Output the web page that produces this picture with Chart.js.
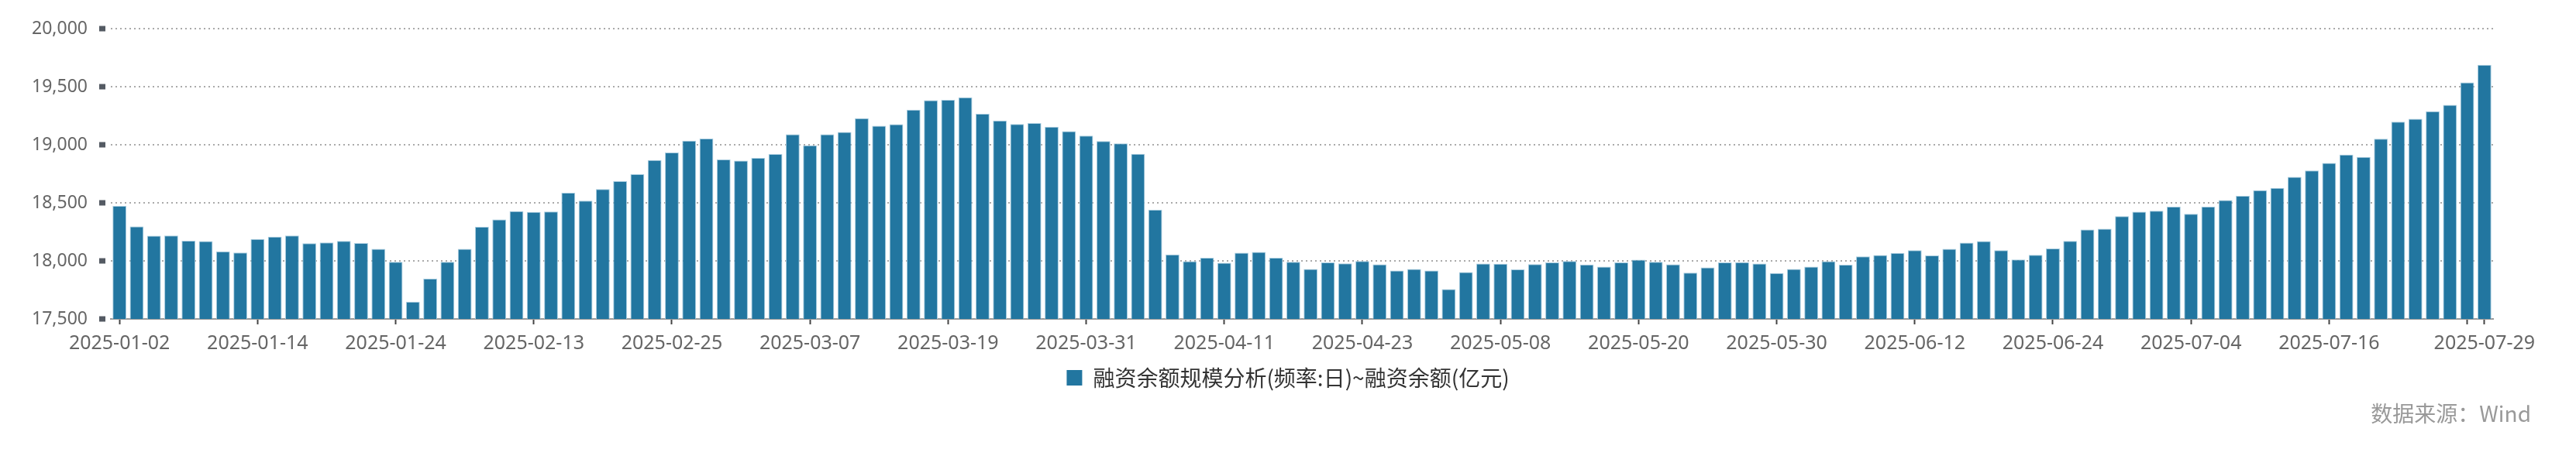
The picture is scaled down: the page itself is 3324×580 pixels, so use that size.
<!DOCTYPE html>
<html>
<head>
<meta charset="utf-8">
<script src="https://cdn.jsdelivr.net/npm/chart.js@4.4.1/dist/chart.umd.min.js"></script>
<style>
  html, body { margin: 0; padding: 0; background: #fff; }
  #wrap { position: relative; width: 3324px; height: 580px; overflow: hidden; }
  #c { display: block; }
  #source { position: absolute; right: 58px; top: 519px; font-family: "Noto Sans CJK SC", sans-serif; font-size: 28px; line-height: 28px; color: #999; white-space: nowrap; }
</style>
</head>
<body>
<div id="wrap">
  <canvas id="c" width="3324" height="580"></canvas>
  <div id="source">数据来源：Wind</div>
</div>
<script>
const seriesName = '融资余额规模分析(频率:日)~融资余额(亿元)';

const dates = [
  '2025-01-02','2025-01-03','2025-01-06','2025-01-07','2025-01-08','2025-01-09','2025-01-10','2025-01-13','2025-01-14','2025-01-15',
  '2025-01-16','2025-01-17','2025-01-20','2025-01-21','2025-01-22','2025-01-23','2025-01-24','2025-01-27',
  '2025-02-05','2025-02-06','2025-02-07','2025-02-10','2025-02-11','2025-02-12','2025-02-13','2025-02-14','2025-02-17','2025-02-18',
  '2025-02-19','2025-02-20','2025-02-21','2025-02-24','2025-02-25','2025-02-26','2025-02-27','2025-02-28',
  '2025-03-03','2025-03-04','2025-03-05','2025-03-06','2025-03-07','2025-03-10','2025-03-11','2025-03-12','2025-03-13','2025-03-14',
  '2025-03-17','2025-03-18','2025-03-19','2025-03-20','2025-03-21','2025-03-24','2025-03-25','2025-03-26','2025-03-27','2025-03-28','2025-03-31',
  '2025-04-01','2025-04-02','2025-04-03','2025-04-07','2025-04-08','2025-04-09','2025-04-10','2025-04-11','2025-04-14','2025-04-15',
  '2025-04-16','2025-04-17','2025-04-18','2025-04-21','2025-04-22','2025-04-23','2025-04-24','2025-04-25','2025-04-28','2025-04-29','2025-04-30',
  '2025-05-06','2025-05-07','2025-05-08','2025-05-09','2025-05-12','2025-05-13','2025-05-14','2025-05-15','2025-05-16','2025-05-19',
  '2025-05-20','2025-05-21','2025-05-22','2025-05-23','2025-05-26','2025-05-27','2025-05-28','2025-05-29','2025-05-30',
  '2025-06-03','2025-06-04','2025-06-05','2025-06-06','2025-06-09','2025-06-10','2025-06-11','2025-06-12','2025-06-13','2025-06-16',
  '2025-06-17','2025-06-18','2025-06-19','2025-06-20','2025-06-23','2025-06-24','2025-06-25','2025-06-26','2025-06-27','2025-06-30',
  '2025-07-01','2025-07-02','2025-07-03','2025-07-04','2025-07-07','2025-07-08','2025-07-09','2025-07-10','2025-07-11','2025-07-14',
  '2025-07-15','2025-07-16','2025-07-17','2025-07-18','2025-07-21','2025-07-22','2025-07-23','2025-07-24','2025-07-25','2025-07-28','2025-07-29'
];

const marginBalance = [
  18474, 18296, 18217, 18219, 18174, 18170, 18081, 18072, 18188, 18208,
  18219, 18152, 18159, 18172, 18154, 18103, 17992, 17649, 17846, 17992,
  18103, 18294, 18356, 18429, 18421, 18425, 18587, 18518, 18618, 18687,
  18747, 18869, 18933, 19035, 19053, 18873, 18864, 18886, 18920, 19090,
  18995, 19090, 19110, 19228, 19164, 19177, 19301, 19383, 19386, 19408,
  19266, 19208, 19179, 19186, 19155, 19117, 19079, 19031, 19011, 18922,
  18440, 18055, 17997, 18026, 17984, 18070, 18077, 18026, 17992, 17930,
  17986, 17979, 17999, 17970, 17917, 17930, 17917, 17757, 17904, 17977,
  17975, 17926, 17972, 17986, 17999, 17968, 17950, 17986, 18010, 17992,
  17970, 17899, 17944, 17986, 17988, 17977, 17895, 17930, 17950, 17997,
  17966, 18039, 18050, 18068, 18092, 18046, 18103, 18157, 18170, 18092,
  18012, 18052, 18106, 18172, 18270, 18276, 18385, 18423, 18432, 18467,
  18405, 18467, 18523, 18560, 18609, 18629, 18724, 18778, 18844, 18915,
  18895, 19051, 19199, 19224, 19288, 19343, 19536, 19689
];

const xTickLabels = [
  '2025-01-02','2025-01-14','2025-01-24','2025-02-13','2025-02-25','2025-03-07','2025-03-19','2025-03-31','2025-04-11',
  '2025-04-23','2025-05-08','2025-05-20','2025-05-30','2025-06-12','2025-06-24','2025-07-04','2025-07-16','2025-07-29'
];
const xTickMarkDates = xTickLabels.concat(['2025-07-28']);

const yMin = 17500, yMax = 20000, yStep = 500;

const labelSet = new Set(xTickLabels);
const markSet = new Set(xTickMarkDates);

new Chart(document.getElementById('c'), {
  type: 'bar',
  data: {
    labels: dates,
    datasets: [{
      label: seriesName,
      data: marginBalance,
      backgroundColor: '#2276a0',
      borderColor: '#a9cde0',
      borderWidth: 1,
      borderSkipped: 'start',
      barPercentage: 0.8,
      categoryPercentage: 1.0,
      yAxisID: 'y'
    }]
  },
  options: {
    responsive: false,
    animation: false,
    locale: 'en-US',
    layout: { padding: { top: 37, right: 0, left: 0, bottom: 68 } },
    plugins: {
      tooltip: { enabled: false },
      title: { display: false },
      legend: {
        display: true,
        position: 'bottom',
        labels: {
          boxWidth: 20,
          boxHeight: 20,
          padding: 10,
          color: '#333',
          font: { family: '"Noto Sans CJK SC", sans-serif', size: 28 },
          generateLabels(chart) {
            const items = Chart.defaults.plugins.legend.labels.generateLabels(chart);
            items.forEach(it => { it.lineWidth = 0; it.strokeStyle = '#2276a0'; it.fillStyle = '#2276a0'; });
            return items;
          }
        }
      }
    },
    scales: {
      x: {
        type: 'category',
        offset: true,
        afterFit(scale) { scale.height = 52; },
        grid: {
          display: true,
          drawOnChartArea: false,
          drawTicks: true,
          offset: false,
          tickLength: 7,
          tickWidth: 2,
          tickColor(ctx) {
            const d = dates[ctx.index];
            return markSet.has(d) ? '#444' : 'rgba(0,0,0,0)';
          }
        },
        border: { display: true, color: '#999', width: 2 },
        ticks: {
          autoSkip: false,
          maxRotation: 0,
          minRotation: 0,
          padding: 10,
          color: '#666',
          font: { family: '"Noto Sans", sans-serif', size: 25 },
          callback(value, index) {
            const d = dates[index];
            return labelSet.has(d) ? d : '';
          }
        }
      },
      y: {
        min: yMin,
        max: yMax,
        position: 'left',
        afterFit(scale) { scale.width = 143; },
        grid: {
          display: true,
          color: '#aaa',
          lineWidth: 2,
          drawTicks: true,
          tickLength: 15,
          tickWidth: 7,
          tickColor: '#545a63',
          tickBorderDash: [8, 40]
        },
        border: { display: false, dash: [2, 4] },
        ticks: {
          stepSize: yStep,
          padding: 15,
          color: '#666',
          font: { family: '"Noto Sans", sans-serif', size: 23 }
        }
      },
      rightSpacer: {
        type: 'linear',
        position: 'right',
        display: true,
        afterFit(scale) { scale.width = 107; },
        grid: { display: false, drawTicks: false },
        border: { display: false },
        ticks: { display: false }
      }
    }
  }
});
</script>
</body>
</html>
